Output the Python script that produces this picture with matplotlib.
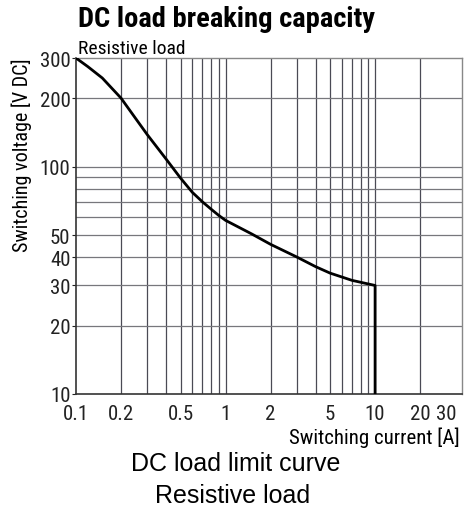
import matplotlib
matplotlib.use("Agg")
import matplotlib.pyplot as plt
import matplotlib.font_manager as fm
from matplotlib.ticker import FixedLocator, NullFormatter, NullLocator

# curve: current [A] vs. voltage [V DC]
current = [0.1, 0.12, 0.15, 0.2, 0.25, 0.3, 0.4, 0.5, 0.6, 0.7, 0.8, 0.9, 1,
           1.5, 2, 3, 4, 5, 7, 10, 10]
voltage = [300, 275, 245, 200, 163, 138, 108, 89, 77, 70, 65, 61, 58,
           50.5, 45.5, 40, 36.3, 34, 31.6, 30, 10]

x_ticks = [0.1, 0.2, 0.5, 1, 2, 5, 10, 20, 30]
x_labels = ["0.1", "0.2", "0.5", "1", "2", "5", "10", "20", "30"]
x_grid = [0.2, 0.3, 0.4, 0.5, 0.6, 0.7, 0.8, 0.9, 1, 2, 3, 4, 5, 6, 7, 8, 9, 10, 20]
y_ticks = [10, 20, 30, 40, 50, 100, 200, 300]
y_labels = ["10", "20", "30", "40", "50", "100", "200", "300"]
y_grid = [20, 30, 40, 50, 60, 70, 80, 90, 100, 200]

# look for a narrow font, the original uses a condensed grotesque
fonts = fm.fontManager.ttflist
names = {f.name for f in fonts}
cond = ["DejaVu Sans"]
stretch = "normal"
for n in ["Liberation Sans Narrow", "Roboto Condensed", "Open Sans Condensed",
          "Noto Sans Condensed", "DejaVu Sans Condensed"]:
    if n in names:
        cond = [n, "DejaVu Sans"]
        break
else:
    if any(f.name == "DejaVu Sans" and f.stretch == "condensed" for f in fonts):
        stretch = "condensed"

fig = plt.figure(figsize=(4.66, 5.10), dpi=100)
ax = fig.add_axes([0.163, 0.2255, 0.828, 0.6588])

ax.set_xscale("log")
ax.set_yscale("log")
ax.set_xlim(0.1, 38)
ax.set_ylim(10, 300)

for g in x_grid:
    ax.axvline(g, color="#4a4a55", lw=0.9, zorder=1)
for g in y_grid:
    ax.axhline(g, color="#77777c", lw=0.9, zorder=1)

ax.plot(current, voltage, color="black", lw=2.0, zorder=3, solid_joinstyle="round")

ax.xaxis.set_major_locator(FixedLocator(x_ticks))
ax.xaxis.set_minor_locator(NullLocator())
ax.xaxis.set_minor_formatter(NullFormatter())
ax.set_xticklabels(x_labels)
ax.yaxis.set_major_locator(FixedLocator(y_ticks))
ax.yaxis.set_minor_locator(NullLocator())
ax.yaxis.set_minor_formatter(NullFormatter())
ax.set_yticklabels(y_labels)

ax.tick_params(axis="x", length=0, pad=7, labelsize=15, colors="#222")
ax.tick_params(axis="y", length=3, pad=1, labelsize=15, colors="#222")
for lab in ax.get_xticklabels() + ax.get_yticklabels():
    lab.set_family(cond)
    lab.set_stretch(stretch)

for side in ["left", "bottom"]:
    ax.spines[side].set_color("#333")
    ax.spines[side].set_linewidth(1.2)
for side in ["top", "right"]:
    ax.spines[side].set_color("#888")
    ax.spines[side].set_linewidth(1.0)

ax.set_ylabel("Switching voltage [V DC]", family=cond, stretch=stretch, fontsize=14.5)
ax.yaxis.set_label_coords(-0.114, 0.714)
ax.set_xlabel("Switching current [A]", family=cond, stretch=stretch, fontsize=15)
ax.xaxis.set_label_coords(0.995, -0.128)
ax.xaxis.label.set_horizontalalignment("right")
ax.xaxis.label.set_verticalalignment("center")

fig.text(0.167, 0.947, "DC load breaking capacity", family=cond, stretch=stretch,
         fontsize=20.5, fontweight="bold", va="baseline", ha="left")
fig.text(0.167, 0.894, "Resistive load", family=cond, stretch=stretch, fontsize=14,
         va="baseline", ha="left")

fig.text(0.506, 0.0765, "DC load limit curve", family=["Liberation Sans", "DejaVu Sans"],
         fontsize=18, ha="center", va="baseline")
fig.text(0.499, 0.0137, "Resistive load", family=["Liberation Sans", "DejaVu Sans"],
         fontsize=18, ha="center", va="baseline")

fig.savefig("out.png", dpi=100)
